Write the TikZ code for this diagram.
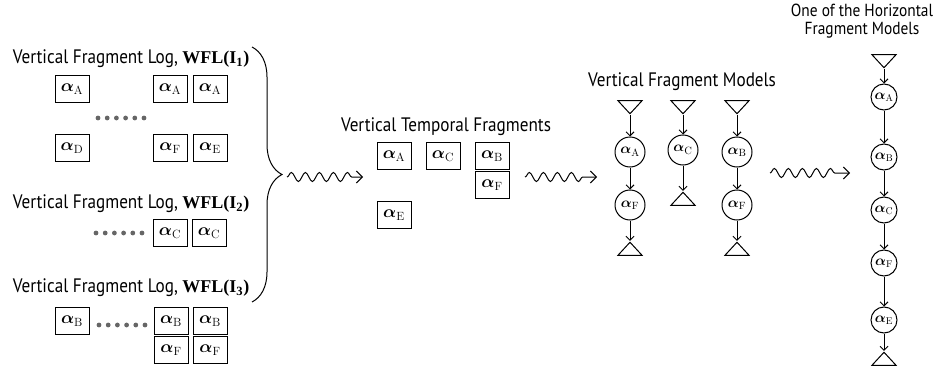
\documentclass[tikz,border=0pt]{standalone}
\usepackage{amsmath}
\usepackage{fontspec}
\setsansfont{PT Sans}[FakeStretch=0.88]
\newfontfamily\wflfont{Liberation Serif}
\usetikzlibrary{shapes,arrows,arrows.meta,positioning,decorations.pathmorphing,decorations.pathreplacing}
\newcommand{\fa}[1]{$\boldsymbol{\alpha}_{\mathrm{#1}}$}
\newcommand{\wfl}[1]{{\wflfont\bfseries\fontsize{18}{18}\selectfont WFL(I\textsubscript{#1})}}

\begin{document}
\begin{tikzpicture}[x=1pt, y=-1pt, line width=1pt, >={Straight Barb[length=4pt,width=8pt]},
    every node/.style={font=\sffamily\fontsize{19.5}{20}\selectfont},
    fragbox/.style={draw, minimum width=34pt, minimum height=27pt, inner sep=0pt, font=\fontsize{17}{17}\selectfont},
    fragcirc/.style={draw, circle, minimum size=30pt, inner sep=0pt, font=\fontsize{15}{15}\selectfont},
    hcirc/.style={fragcirc, minimum size=26pt, font=\fontsize{14}{14}\selectfont},
    tridown/.style={draw, isosceles triangle, isosceles triangle stretches, shape border rotate=-90, minimum width=24pt, minimum height=13pt, inner sep=0pt},
    triup/.style={tridown, shape border rotate=90},
    wavy/.style={-{Straight Barb[length=6pt,width=12pt]}, decorate, decoration={snake, amplitude=4.5pt, segment length=14pt, post length=9pt}}]
    \useasboundingbox (0,0) rectangle (943,372);

    % logs
    \node[anchor=west] (lg1) at (9,59) {Vertical Fragment Log, \wfl{1}};
    \node[fragbox] (l1a) at (72,89) {\fa{A}};
    \node[fragbox] (l1b) at (170,89) {\fa{A}};
    \node[fragbox] (l1c) at (210,89) {\fa{A}};
    \node[fragbox] (l1d) at (72,148) {\fa{D}};
    \node[fragbox] (l1e) at (170,148) {\fa{F}};
    \node[fragbox] (l1f) at (210,148) {\fa{E}};
    \foreach \i in {0,...,5} \fill[black!60] (98+\i*9.2,118) circle (2.4);

    \node[anchor=west] (lg2) at (9,204) {Vertical Fragment Log, \wfl{2}};
    \node[fragbox] (l2a) at (170,233) {\fa{C}};
    \node[fragbox] (l2b) at (209,233) {\fa{C}};
    \foreach \i in {0,...,5} \fill[black!60] (96+\i*9.2,233) circle (2.4);

    \node[anchor=west] (lg3) at (9,288) {Vertical Fragment Log, \wfl{3}};
    \node[fragbox] (l3a) at (72,321) {\fa{B}};
    \node[fragbox] (l3b) at (171,321) {\fa{B}};
    \node[fragbox] (l3c) at (210,321) {\fa{B}};
    \node[fragbox] (l3d) at (171,350) {\fa{F}};
    \node[fragbox] (l3e) at (210,350) {\fa{F}};
    \foreach \i in {0,...,5} \fill[black!60] (99+\i*9.2,325) circle (2.4);

    \coordinate (btop) at (252,47);
    \coordinate (bbot) at (252,302);
    \draw[decorate, decoration={brace, amplitude=30pt, aspect=0.5}] (btop) -- (bbot);

    % temporal fragments
    \coordinate (w1s) at (287,177);
    \coordinate (w1e) at (363,177);
    \draw[wavy] (w1s) -- (w1e);
    \node (tmp) at (446,127) {Vertical Temporal Fragments};
    \node[fragbox] (tfa) at (394,156) {\fa{A}};
    \node[fragbox] (tfc) at (443,156) {\fa{C}};
    \node[fragbox] (tfb) at (492,156) {\fa{B}};
    \node[fragbox] (tff) at (492,185) {\fa{F}};
    \node[fragbox] (tfe) at (394,215) {\fa{E}};

    % vertical models
    \coordinate (w2s) at (525,177);
    \coordinate (w2e) at (597,177);
    \draw[wavy] (w2s) -- (w2e);
    \node (vfm) at (682,82) {Vertical Fragment Models};
    \node[tridown] (v1s) at (630,106) {};
    \node[fragcirc] (v1a) at (630,152) {\fa{A}};
    \node[fragcirc] (v1f) at (630,205) {\fa{F}};
    \node[triup] (v1e) at (630,250) {};
    \node[tridown] (v2s) at (683,106) {};
    \node[fragcirc] (v2c) at (683,150) {\fa{C}};
    \node[triup] (v2e) at (683,200) {};
    \node[tridown] (v3s) at (737,106) {};
    \node[fragcirc] (v3b) at (737,152) {\fa{B}};
    \node[fragcirc] (v3f) at (737,205) {\fa{F}};
    \node[triup] (v3e) at (737,250) {};
    \draw[->] (v1s) -- (v1a);
    \draw[->] (v1a) -- (v1f);
    \draw[->] (v1f) -- (v1e);
    \draw[->] (v2s) -- (v2c);
    \draw[->] (v2c) -- (v2e);
    \draw[->] (v3s) -- (v3b);
    \draw[->] (v3b) -- (v3f);
    \draw[->] (v3f) -- (v3e);

    % horizontal model
    \coordinate (w3s) at (770,173);
    \coordinate (w3e) at (850,173);
    \draw[wavy] (w3s) -- (w3e);
    \node[align=center, inner sep=0pt, font=\sffamily\fontsize{17.5}{18.5}\selectfont] (hfm) at (862,21) {One of the Horizontal\\Fragment Models};
    \node[tridown] (hs) at (884,60) {};
    \node[hcirc] (ha) at (884,97) {\fa{A}};
    \node[hcirc] (hb) at (884,157) {\fa{B}};
    \node[hcirc] (hc) at (884,210) {\fa{C}};
    \node[hcirc] (hf) at (884,263) {\fa{F}};
    \node[hcirc] (he) at (884,320) {\fa{E}};
    \node[triup] (he2) at (884,360) {};
    \draw[->] (hs) -- (ha);
    \draw[->] (ha) -- (hb);
    \draw[->] (hb) -- (hc);
    \draw[->] (hc) -- (hf);
    \draw[->] (hf) -- (he);
    \draw[->] (he) -- (he2);
\end{tikzpicture}
\end{document}
